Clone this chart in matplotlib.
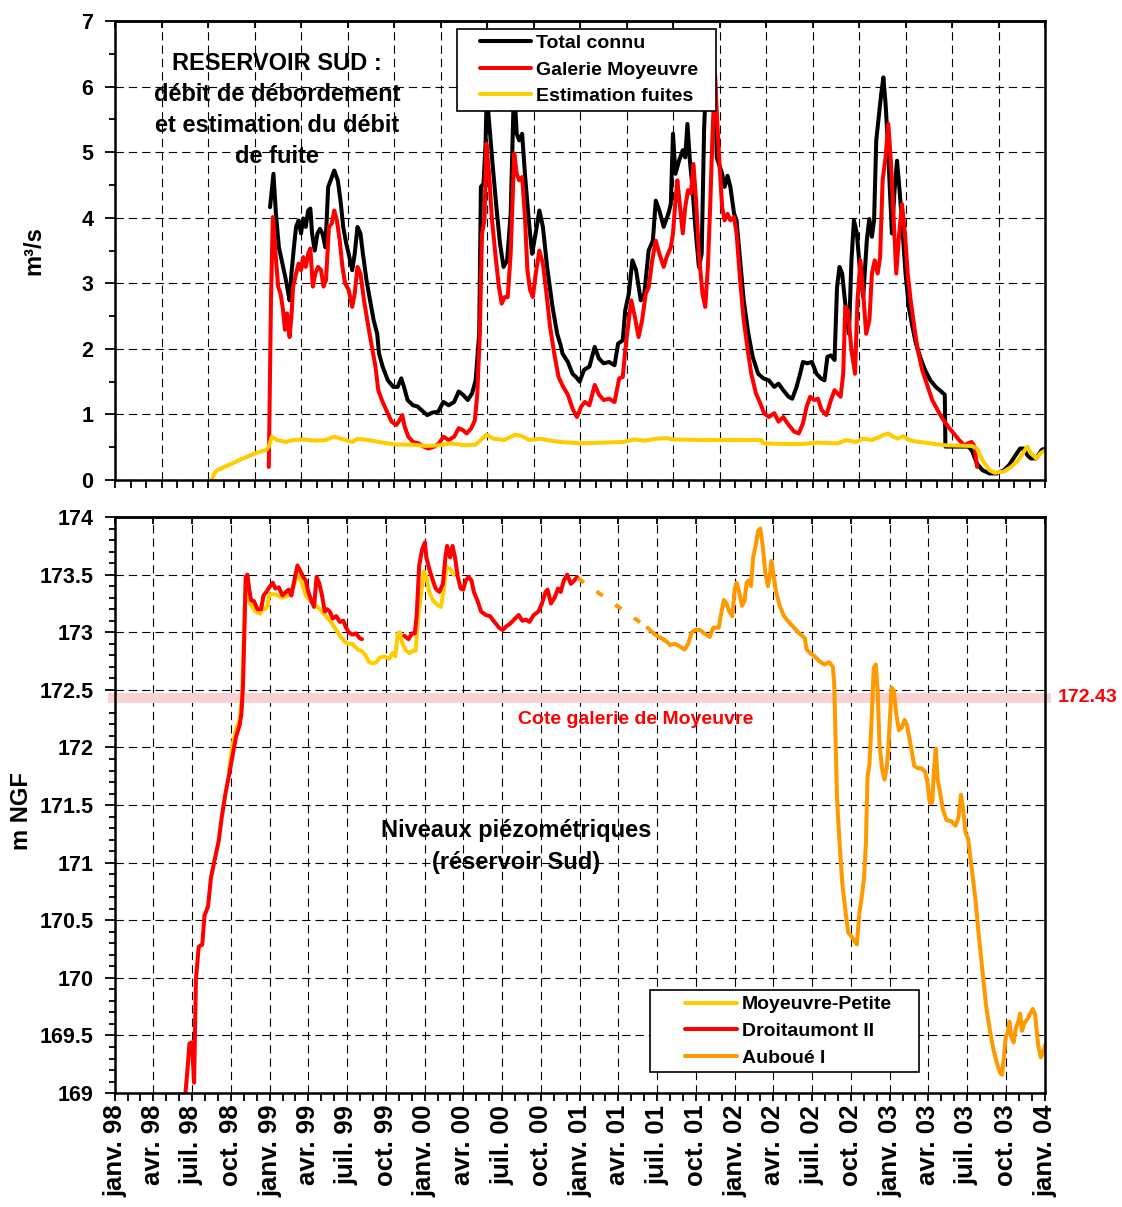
import numpy as np
import matplotlib
matplotlib.use("Agg")
import matplotlib.pyplot as plt
import matplotlib.dates as mdates
import matplotlib.transforms as mtransforms
from matplotlib.lines import Line2D
from matplotlib.legend_handler import HandlerLine2D
from matplotlib.ticker import (FixedLocator, MultipleLocator, FuncFormatter,
                               NullFormatter, NullLocator)

plt.rcParams['font.family'] = ['Liberation Sans', 'DejaVu Sans']
plt.rcParams['font.weight'] = 'bold'
plt.rcParams['lines.scale_dashes'] = False

# ---------------------------------------------------------------------------
# Data (time in years elapsed since 1 Jan 1998)
# ---------------------------------------------------------------------------
# Flows, m3/s
total_t = [1.000, 1.022, 1.038, 1.057, 1.080, 1.098, 1.114, 1.126, 1.138, 1.154,
           1.168, 1.184, 1.200, 1.214, 1.230, 1.246, 1.260, 1.271, 1.288, 1.306,
           1.322, 1.338, 1.357, 1.375, 1.391, 1.414, 1.437, 1.454, 1.472, 1.491,
           1.507, 1.530, 1.546, 1.564, 1.583, 1.599, 1.622, 1.645, 1.668, 1.691,
           1.703, 1.726, 1.760, 1.795, 1.823, 1.846, 1.864, 1.887, 1.922, 1.952,
           1.975, 2.014, 2.049, 2.084, 2.118, 2.153, 2.187, 2.217, 2.245, 2.275,
           2.303, 2.326, 2.349, 2.360, 2.377, 2.390, 2.398, 2.408, 2.437, 2.460,
           2.483, 2.506, 2.529, 2.552, 2.570, 2.578, 2.591, 2.607, 2.626, 2.644,
           2.667, 2.690, 2.713, 2.737, 2.760, 2.787, 2.822, 2.852, 2.875, 2.886,
           2.921, 2.951, 2.974, 2.997, 3.025, 3.060, 3.094, 3.122, 3.152, 3.187,
           3.222, 3.245, 3.275, 3.291, 3.314, 3.337, 3.361, 3.391, 3.414, 3.442,
           3.469, 3.488, 3.511, 3.539, 3.569, 3.585, 3.599, 3.615, 3.638, 3.662,
           3.678, 3.692, 3.708, 3.724, 3.743, 3.766, 3.784, 3.800, 3.815, 3.870,
           3.881, 3.916, 3.932, 3.951, 3.969, 3.993, 4.009, 4.032, 4.055, 4.085,
           4.113, 4.148, 4.182, 4.217, 4.252, 4.280, 4.310, 4.345, 4.368, 4.396,
           4.419, 4.437, 4.465, 4.495, 4.525, 4.553, 4.576, 4.595, 4.618, 4.641,
           4.657, 4.673, 4.690, 4.710, 4.734, 4.750, 4.766, 4.785, 4.803, 4.826,
           4.849, 4.865, 4.882, 4.896, 4.910, 4.928, 4.942, 4.956, 4.970, 4.984,
           4.997, 5.011, 5.028, 5.044, 5.062, 5.081, 5.099, 5.120, 5.143, 5.166,
           5.197, 5.224, 5.259, 5.294, 5.329, 5.352, 5.356, 5.410, 5.502, 5.525,
           5.560, 5.595, 5.641, 5.687, 5.734, 5.768, 5.803, 5.838, 5.861, 5.884,
           5.907, 5.942, 5.977, 6.000]
total_v = [4.16, 4.67, 4.06, 3.55, 3.30, 3.10, 2.90, 2.74, 3.15, 3.55,
           3.86, 3.96, 3.76, 3.99, 3.86, 4.11, 4.14, 3.76, 3.50, 3.76,
           3.83, 3.76, 3.55, 4.47, 4.57, 4.72, 4.57, 4.27, 3.86, 3.61,
           3.45, 3.20, 3.45, 3.86, 3.76, 3.45, 3.05, 2.74, 2.44, 2.23,
           1.93, 1.73, 1.52, 1.42, 1.42, 1.55, 1.42, 1.22, 1.14, 1.12,
           1.07, 0.99, 1.03, 1.04, 1.19, 1.14, 1.19, 1.35, 1.30, 1.22,
           1.32, 1.52, 2.23, 4.47, 4.52, 5.13, 5.95, 5.60, 4.77, 4.16,
           3.61, 3.25, 3.35, 4.06, 5.69, 5.85, 5.28, 5.18, 5.28, 4.67,
           4.01, 3.45, 3.76, 4.11, 3.86, 3.25, 2.64, 2.23, 2.05, 1.93,
           1.80, 1.62, 1.57, 1.50, 1.68, 1.73, 2.03, 1.85, 1.78, 1.80,
           1.75, 2.08, 2.13, 2.59, 2.84, 3.35, 3.20, 2.74, 2.84, 3.50,
           3.65, 4.26, 4.11, 3.86, 4.06, 4.21, 5.28, 4.67, 4.87, 5.03,
           4.92, 5.43, 4.87, 4.47, 3.86, 3.25, 3.45, 5.38, 6.20, 6.15,
           4.92, 4.67, 4.47, 4.64, 4.47, 4.06, 3.96, 3.35, 2.74, 2.23,
           1.88, 1.62, 1.55, 1.52, 1.42, 1.47, 1.37, 1.27, 1.24, 1.42,
           1.62, 1.80, 1.78, 1.80, 1.62, 1.55, 1.52, 1.88, 1.90, 1.83,
           2.94, 3.25, 3.15, 2.69, 2.23, 3.35, 3.96, 3.76, 3.25, 2.79,
           3.65, 3.98, 3.71, 3.96, 5.18, 5.58, 5.89, 6.14, 5.74, 5.18,
           4.47, 3.76, 4.42, 4.87, 4.37, 3.76, 3.15, 2.64, 2.34, 2.08,
           1.85, 1.68, 1.52, 1.42, 1.35, 1.30, 0.51, 0.51, 0.51, 0.46,
           0.25, 0.15, 0.10, 0.10, 0.15, 0.23, 0.36, 0.48, 0.48, 0.38,
           0.33, 0.33, 0.46, 0.48]

galerie_t = [0.992, 1.006, 1.018, 1.034, 1.052, 1.068, 1.084, 1.096, 1.110, 1.126,
             1.138, 1.149, 1.168, 1.184, 1.200, 1.214, 1.230, 1.246, 1.260, 1.276,
             1.292, 1.310, 1.329, 1.345, 1.361, 1.380, 1.398, 1.414, 1.431, 1.449,
             1.467, 1.484, 1.507, 1.530, 1.546, 1.564, 1.583, 1.606, 1.634, 1.657,
             1.680, 1.698, 1.721, 1.749, 1.784, 1.814, 1.830, 1.853, 1.869, 1.892,
             1.922, 1.957, 1.991, 2.021, 2.060, 2.090, 2.118, 2.153, 2.187, 2.217,
             2.245, 2.268, 2.298, 2.321, 2.337, 2.353, 2.367, 2.383, 2.395, 2.413,
             2.430, 2.453, 2.476, 2.494, 2.513, 2.533, 2.552, 2.575, 2.591, 2.607,
             2.626, 2.644, 2.660, 2.677, 2.695, 2.714, 2.737, 2.760, 2.783, 2.806,
             2.833, 2.861, 2.891, 2.921, 2.951, 2.979, 3.007, 3.030, 3.060, 3.094,
             3.122, 3.152, 3.187, 3.222, 3.252, 3.275, 3.291, 3.314, 3.330, 3.353,
             3.377, 3.400, 3.423, 3.442, 3.465, 3.488, 3.511, 3.539, 3.558, 3.585,
             3.599, 3.615, 3.627, 3.645, 3.662, 3.678, 3.696, 3.715, 3.731, 3.748,
             3.766, 3.789, 3.807, 3.824, 3.840, 3.854, 3.870, 3.881, 3.900, 3.916,
             3.932, 3.951, 3.969, 3.993, 4.009, 4.032, 4.055, 4.081, 4.104, 4.134,
             4.162, 4.187, 4.217, 4.252, 4.280, 4.310, 4.345, 4.380, 4.410, 4.437,
             4.461, 4.484, 4.510, 4.534, 4.557, 4.588, 4.618, 4.641, 4.660, 4.680,
             4.697, 4.710, 4.727, 4.750, 4.773, 4.789, 4.808, 4.826, 4.845, 4.866,
             4.882, 4.900, 4.919, 4.935, 4.951, 4.970, 4.988, 5.004, 5.021, 5.039,
             5.058, 5.076, 5.095, 5.113, 5.132, 5.155, 5.178, 5.206, 5.236, 5.271,
             5.305, 5.336, 5.375, 5.410, 5.444, 5.479, 5.502, 5.525, 5.544, 5.560]
galerie_v = [0.20, 2.74, 4.01, 3.50, 2.95, 2.84, 2.59, 2.29, 2.54, 2.18,
             2.49, 2.95, 3.15, 3.30, 3.20, 3.40, 3.25, 3.45, 3.53, 2.95,
             3.15, 3.25, 3.20, 2.95, 3.05, 3.86, 3.91, 4.11, 3.96, 3.66,
             3.25, 3.00, 2.90, 2.64, 2.84, 3.25, 3.15, 2.74, 2.34, 2.03,
             1.73, 1.37, 1.22, 1.07, 0.89, 0.84, 0.89, 0.99, 0.81, 0.66,
             0.58, 0.56, 0.51, 0.48, 0.51, 0.56, 0.66, 0.61, 0.66, 0.79,
             0.76, 0.71, 0.79, 0.91, 1.32, 2.23, 3.76, 3.96, 5.13, 4.67,
             4.01, 3.45, 2.95, 2.69, 2.79, 2.79, 3.45, 4.98, 4.67, 4.57,
             4.62, 4.01, 3.20, 2.90, 2.79, 3.15, 3.50, 3.30, 2.84, 2.34,
             1.93, 1.57, 1.42, 1.30, 1.09, 0.96, 1.12, 1.19, 1.14, 1.45,
             1.30, 1.22, 1.24, 1.19, 1.55, 1.57, 1.98, 2.44, 2.74, 2.49,
             2.18, 2.44, 2.84, 2.94, 3.35, 3.65, 3.45, 3.25, 3.40, 3.55,
             3.76, 4.26, 4.57, 4.16, 3.76, 4.16, 4.42, 4.37, 4.82, 4.26,
             3.45, 2.84, 2.64, 3.25, 4.26, 5.28, 6.19, 5.63, 4.77, 4.16,
             3.96, 4.06, 3.96, 4.01, 3.76, 3.05, 2.44, 1.98, 1.62, 1.32,
             1.17, 1.02, 0.96, 1.02, 0.89, 0.96, 0.84, 0.74, 0.71, 0.86,
             1.12, 1.27, 1.22, 1.24, 1.07, 0.99, 1.22, 1.37, 1.32, 1.27,
             1.62, 2.64, 2.59, 1.98, 1.62, 2.74, 3.35, 2.84, 2.23, 2.44,
             3.15, 3.35, 3.15, 3.40, 4.57, 4.92, 5.43, 4.87, 4.06, 3.15,
             3.76, 4.21, 3.76, 3.15, 2.74, 2.34, 1.98, 1.68, 1.47, 1.22,
             1.07, 0.94, 0.81, 0.71, 0.61, 0.53, 0.56, 0.58, 0.51, 0.20]

fuites_t = [0.623, 0.641, 0.660, 0.734, 0.826, 0.918, 0.976, 0.992, 1.011, 1.045,
            1.103, 1.150, 1.218, 1.288, 1.357, 1.414, 1.472, 1.530, 1.564, 1.634,
            1.726, 1.818, 1.910, 2.003, 2.095, 2.165, 2.257, 2.326, 2.360, 2.395,
            2.441, 2.510, 2.580, 2.626, 2.672, 2.741, 2.810, 2.875, 2.998, 3.141,
            3.280, 3.350, 3.420, 3.488, 3.557, 3.590, 3.800, 4.000, 4.170, 4.178,
            4.298, 4.437, 4.530, 4.664, 4.715, 4.780, 4.824, 4.880, 4.926, 4.958,
            4.988, 5.020, 5.051, 5.081, 5.132, 5.224, 5.352, 5.525, 5.560, 5.595,
            5.641, 5.675, 5.734, 5.780, 5.826, 5.861, 5.884, 5.907, 5.942, 5.970,
            6.000]
fuites_v = [0.00, 0.10, 0.15, 0.23, 0.33, 0.42, 0.46, 0.51, 0.66, 0.61,
            0.58, 0.61, 0.62, 0.60, 0.61, 0.66, 0.62, 0.58, 0.63, 0.61,
            0.57, 0.54, 0.54, 0.52, 0.53, 0.56, 0.53, 0.54, 0.61, 0.69,
            0.63, 0.61, 0.69, 0.67, 0.61, 0.63, 0.60, 0.58, 0.56, 0.57,
            0.58, 0.62, 0.60, 0.63, 0.64, 0.62, 0.61, 0.61, 0.61, 0.56,
            0.55, 0.55, 0.57, 0.56, 0.61, 0.58, 0.63, 0.61, 0.65, 0.69,
            0.71, 0.66, 0.63, 0.67, 0.60, 0.57, 0.53, 0.52, 0.48, 0.30,
            0.15, 0.11, 0.13, 0.20, 0.30, 0.43, 0.51, 0.41, 0.33, 0.41,
            0.45]

# Piezometric levels, m NGF
moyeuvre_t = [0.735, 0.757, 0.780, 0.805, 0.820, 0.832, 0.842, 0.850, 0.870, 0.907,
              0.937, 0.952, 0.966, 0.983, 0.995, 1.030, 1.080, 1.120, 1.160, 1.177,
              1.207, 1.230, 1.260, 1.288, 1.322, 1.353, 1.392, 1.427, 1.461, 1.496,
              1.531, 1.565, 1.590, 1.616, 1.639, 1.662, 1.685, 1.708, 1.738, 1.768,
              1.791, 1.808, 1.824, 1.838, 1.854, 1.877, 1.900, 1.923, 1.939, 1.953,
              1.969, 1.992, 2.008, 2.027, 2.050, 2.078, 2.101, 2.119, 2.138, 2.161,
              2.184]
moyeuvre_v = [171.80, 172.02, 172.15, 172.25, 172.45, 173.00, 173.40, 173.38, 173.25, 173.18,
              173.16, 173.22, 173.20, 173.22, 173.33, 173.33, 173.30, 173.32, 173.43, 173.52,
              173.42, 173.32, 173.27, 173.24, 173.20, 173.15, 173.09, 173.02, 172.95, 172.90,
              172.90, 172.85, 172.84, 172.80, 172.74, 172.73, 172.74, 172.78, 172.79, 172.77,
              172.82, 172.79, 172.99, 173.00, 172.90, 172.84, 172.82, 172.84, 172.84, 173.09,
              173.28, 173.53, 173.48, 173.35, 173.28, 173.24, 173.22, 173.35, 173.57, 173.55,
              173.50]

droitaumont_t = [0.445, 0.452, 0.469, 0.480, 0.496, 0.510, 0.522, 0.540, 0.563, 0.577,
                 0.600, 0.619, 0.642, 0.669, 0.688, 0.711, 0.734, 0.757, 0.780, 0.803,
                 0.815, 0.826, 0.834, 0.843, 0.854, 0.865, 0.877, 0.896, 0.919, 0.942,
                 0.958, 0.976, 1.000, 1.018, 1.034, 1.057, 1.080, 1.103, 1.120, 1.138,
                 1.161, 1.177, 1.196, 1.214, 1.230, 1.247, 1.265, 1.284, 1.300, 1.316,
                 1.334, 1.353, 1.369, 1.385, 1.404, 1.427, 1.450, 1.473, 1.487, 1.507,
                 1.531, 1.554, 1.577, 1.593, 1.730, 1.865, 1.893, 1.915, 1.934, 1.946,
                 1.962, 1.981, 1.999, 2.008, 2.027, 2.050, 2.068, 2.092, 2.115, 2.131,
                 2.142, 2.161, 2.177, 2.193, 2.211, 2.230, 2.246, 2.262, 2.281, 2.299,
                 2.315, 2.339, 2.361, 2.392, 2.419, 2.447, 2.477, 2.500, 2.523, 2.553,
                 2.581, 2.604, 2.627, 2.650, 2.673, 2.701, 2.731, 2.754, 2.777, 2.790,
                 2.812, 2.835, 2.858, 2.875, 2.895, 2.917, 2.940, 2.963, 2.980]
droitaumont_v = [168.85, 168.96, 169.23, 169.43, 169.44, 169.09, 169.99, 170.27, 170.29, 170.54,
                 170.62, 170.87, 171.02, 171.19, 171.39, 171.59, 171.75, 171.92, 172.09, 172.19,
                 172.29, 172.55, 172.99, 173.48, 173.50, 173.38, 173.28, 173.27, 173.20, 173.20,
                 173.32, 173.35, 173.40, 173.43, 173.38, 173.39, 173.32, 173.35, 173.37, 173.32,
                 173.48, 173.58, 173.53, 173.48, 173.45, 173.35, 173.28, 173.22, 173.48, 173.43,
                 173.33, 173.18, 173.20, 173.18, 173.12, 173.14, 173.09, 173.10, 173.05, 173.00,
                 172.98, 172.99, 172.95, 172.94, np.nan, 172.97, 172.94, 172.99, 172.99, 173.15,
                 173.58, 173.72, 173.78, 173.65, 173.55, 173.45, 173.38, 173.35, 173.42, 173.65,
                 173.75, 173.65, 173.75, 173.65, 173.48, 173.38, 173.37, 173.45, 173.48, 173.45,
                 173.35, 173.27, 173.18, 173.15, 173.14, 173.09, 173.04, 173.02, 173.05, 173.08,
                 173.12, 173.15, 173.10, 173.11, 173.09, 173.15, 173.18, 173.25, 173.35, 173.37,
                 173.25, 173.30, 173.38, 173.35, 173.45, 173.50, 173.42, 173.45, 173.48]

# Auboue I: sparse readings (dashed link) then regular record
auboue_gap_t = [2.985, 3.435]
auboue_gap_v = [173.47, 173.04]
auboue_t = [3.435, 3.465, 3.495, 3.523, 3.558, 3.581, 3.611, 3.639, 3.674, 3.697,
            3.720, 3.743, 3.773, 3.801, 3.836, 3.859, 3.894, 3.912, 3.928, 3.944,
            3.962, 3.981, 3.998, 4.009, 4.026, 4.044, 4.060, 4.074, 4.088, 4.102,
            4.116, 4.132, 4.148, 4.162, 4.178, 4.194, 4.211, 4.222, 4.234, 4.245,
            4.264, 4.287, 4.315, 4.345, 4.380, 4.414, 4.449, 4.461, 4.484, 4.514,
            4.542, 4.576, 4.606, 4.630, 4.639, 4.646, 4.657, 4.674, 4.691, 4.713,
            4.730, 4.750, 4.769, 4.785, 4.801, 4.815, 4.831, 4.843, 4.854, 4.866,
            4.877, 4.894, 4.907, 4.919, 4.931, 4.947, 4.963, 4.977, 4.988, 5.000,
            5.009, 5.023, 5.039, 5.056, 5.074, 5.093, 5.109, 5.132, 5.155, 5.178,
            5.201, 5.225, 5.241, 5.255, 5.271, 5.282, 5.294, 5.306, 5.324, 5.340,
            5.363, 5.394, 5.421, 5.440, 5.456, 5.468, 5.486, 5.502, 5.525, 5.549,
            5.572, 5.595, 5.618, 5.641, 5.664, 5.688, 5.711, 5.722, 5.734, 5.745,
            5.757, 5.769, 5.780, 5.796, 5.810, 5.826, 5.838, 5.850, 5.866, 5.884,
            5.903, 5.919, 5.935, 5.954, 5.972, 5.988, 6.000]
auboue_v = [173.04, 173.00, 172.97, 172.95, 172.92, 172.89, 172.90, 172.88, 172.85, 172.90,
            173.00, 173.02, 173.02, 172.99, 172.96, 173.04, 173.04, 173.18, 173.28, 173.25,
            173.18, 173.14, 173.38, 173.43, 173.35, 173.23, 173.27, 173.43, 173.45, 173.40,
            173.65, 173.75, 173.88, 173.90, 173.75, 173.52, 173.40, 173.48, 173.62, 173.52,
            173.35, 173.23, 173.14, 173.09, 173.04, 172.99, 172.95, 172.85, 172.82, 172.79,
            172.75, 172.72, 172.74, 172.70, 172.55, 172.15, 171.55, 171.16, 170.82, 170.56,
            170.39, 170.36, 170.32, 170.29, 170.56, 170.69, 170.86, 171.16, 171.75, 171.85,
            172.15, 172.69, 172.72, 172.49, 172.02, 171.82, 171.72, 171.82, 171.99, 172.29,
            172.52, 172.49, 172.29, 172.15, 172.17, 172.24, 172.19, 172.02, 171.84, 171.82,
            171.82, 171.79, 171.69, 171.52, 171.52, 171.79, 171.99, 171.72, 171.59, 171.46,
            171.37, 171.36, 171.32, 171.39, 171.59, 171.49, 171.26, 171.21, 170.96, 170.69,
            170.36, 170.06, 169.76, 169.56, 169.39, 169.26, 169.17, 169.16, 169.32, 169.49,
            169.52, 169.62, 169.49, 169.44, 169.56, 169.62, 169.69, 169.54, 169.61, 169.64,
            169.69, 169.73, 169.68, 169.42, 169.31, 169.36, 169.42]

gallery_level = 172.43

# Axis labels
month_names = {1: 'janv.', 4: 'avr.', 7: 'juil.', 10: 'oct.'}

# ---------------------------------------------------------------------------
ORIGIN = np.datetime64('1998-01-01T00:00:00')


def to_dates(t):
    secs = np.round(np.asarray(t, dtype=float) * 365.25 * 86400).astype('int64')
    return ORIGIN + secs.astype('timedelta64[s]')


x_start = np.datetime64('1998-01-01')
x_end = np.datetime64('2004-01-01')
d0, d1 = mdates.date2num(x_start), mdates.date2num(x_end)

BLACK = '#000000'
RED = '#FF0000'
YELLOW = '#FFCC00'
ORANGE = '#FF9900'
LW = 2.9
GRID_DASH = (0, (6, 3.6))
SPINE_W = 1.8
TICK_FS = 15.5
XTICK_FS = 18.5
LEG_FS = 14

fig = plt.figure(figsize=(11.22, 12.07), dpi=100)
ax1 = fig.add_axes([0.1025, 0.6023, 0.8289, 0.3803])
ax2 = fig.add_axes([0.1025, 0.0944, 0.8289, 0.4772])

line_kw = dict(linewidth=LW, solid_joinstyle='round', solid_capstyle='round')


def boxed_legend(ax, anchor, loc, xpad):
    leg = ax.legend(loc=loc, bbox_to_anchor=anchor, mode='expand',
                    prop={'weight': 'bold', 'size': LEG_FS}, frameon=True,
                    fancybox=False, edgecolor='black', framealpha=1,
                    handlelength=2.65 + xpad, handletextpad=0.26,
                    labelspacing=0.46, borderpad=0.28, borderaxespad=0,
                    handler_map={Line2D: HandlerLine2D(xpad=xpad)})
    leg.get_frame().set_linewidth(1.2)
    return leg


# ---- top panel: flows ----
ax1.plot(to_dates(total_t), total_v, color=BLACK, label='Total connu', **line_kw)
ax1.plot(to_dates(galerie_t), galerie_v, color=RED, label='Galerie Moyeuvre', **line_kw)
ax1.plot(to_dates(fuites_t), fuites_v, color=YELLOW, label='Estimation fuites', **line_kw)

ax1.set_xlim(x_start, x_end)
ax1.set_ylim(0, 7)
ax1.yaxis.set_major_locator(MultipleLocator(1))
ax1.yaxis.set_minor_locator(MultipleLocator(0.5))
ax1.xaxis.set_major_locator(FixedLocator(np.linspace(d0, d1, 21)))
ax1.xaxis.set_minor_locator(FixedLocator(np.linspace(d0, d1, 61)))
ax1.xaxis.set_major_formatter(NullFormatter())
ax1.xaxis.set_minor_formatter(NullFormatter())
ax1.set_ylabel('m³/s', fontsize=17, fontweight='bold')
ax1.yaxis.set_label_coords(-0.075, 0.5)

boxed_legend(ax1, (0.368, 0.5, 0.2785, 0.4826), 'upper left', 0.87)

ax1.text(0.174, 5.64, 'RESERVOIR SUD :\ndébit de débordement\net estimation du débit\nde fuite',
         transform=mtransforms.blended_transform_factory(ax1.transAxes, ax1.transData),
         ha='center', va='center', fontsize=17, fontweight='bold', linespacing=1.45)

# ---- bottom panel: piezometric levels ----
ax2.axhspan(gallery_level - 0.04, gallery_level + 0.04, xmin=-0.007, xmax=1.006,
            facecolor='#F9D3D3', edgecolor='none', zorder=1.2, clip_on=False)
ax2.plot(to_dates(moyeuvre_t), moyeuvre_v, color=YELLOW, label='Moyeuvre-Petite', **line_kw)
ax2.plot(to_dates(droitaumont_t), droitaumont_v, color=RED, label='Droitaumont II', **line_kw)
ax2.plot(to_dates(auboue_gap_t), auboue_gap_v, color=ORANGE, linewidth=LW,
         linestyle=(0, (5.5, 11)), dash_capstyle='butt')
ax2.plot(to_dates(auboue_t), auboue_v, color=ORANGE, label='Auboué I', **line_kw)

ax2.set_xlim(x_start, x_end)
ax2.set_ylim(169, 174)
ax2.yaxis.set_major_locator(MultipleLocator(0.5))
ax2.yaxis.set_minor_locator(MultipleLocator(0.1))
ax2.yaxis.set_major_formatter(FuncFormatter(lambda v, p: f'{v:g}'))
ax2.xaxis.set_major_locator(mdates.MonthLocator(bymonth=[1, 4, 7, 10]))
ax2.xaxis.set_minor_locator(mdates.MonthLocator())


def fr_date(x, pos=None):
    d = mdates.num2date(x)
    return f'{month_names.get(d.month, "")} {d.year % 100:02d}'


ax2.xaxis.set_major_formatter(FuncFormatter(fr_date))
ax2.tick_params(axis='x', which='major', labelrotation=90, labelsize=XTICK_FS, pad=3)
ax2.set_ylabel('m NGF', fontsize=17, fontweight='bold')
ax2.yaxis.set_label_coords(-0.088, 0.49)

blend2 = mtransforms.blended_transform_factory(ax2.transAxes, ax2.transData)
ax2.text(1.014, gallery_level, f'{gallery_level:.2f}', transform=blend2, color=RED,
         ha='left', va='center', fontsize=14, fontweight='bold')
ax2.text(0.560, 172.24, 'Cote galerie de Moyeuvre', transform=blend2, color=RED,
         ha='center', va='center', fontsize=14, fontweight='bold')
ax2.text(0.431, 171.14, 'Niveaux piézométriques\n(réservoir Sud)', transform=blend2,
         ha='center', va='center', fontsize=17, fontweight='bold', linespacing=1.45)

boxed_legend(ax2, (0.575, 0.0365, 0.289, 0.3), 'lower left', 1.55)

# ---- common styling ----
for ax in (ax1, ax2):
    ax.set_axisbelow(True)
    ax.grid(True, which='major', color='black', linestyle=GRID_DASH, linewidth=0.8)
    for sp in ax.spines.values():
        sp.set_linewidth(SPINE_W)
        sp.set_zorder(5)
    ax.tick_params(axis='both', which='both', direction='out', width=1.3,
                   top=False, right=False)
    ax.tick_params(axis='y', which='major', length=7.5, pad=8, labelsize=TICK_FS)
    ax.tick_params(axis='y', which='minor', length=4.5)
    ax.tick_params(axis='x', which='both', length=5.5)
    for lab in ax.get_yticklabels() + ax.get_xticklabels():
        lab.set_fontweight('bold')

# inward tick marks along the upper frame
for ax, loc in ((ax1, FixedLocator(np.linspace(d0, d1, 21))),
                (ax2, mdates.MonthLocator(bymonth=[1, 4, 7, 10]))):
    sec = ax.secondary_xaxis('top')
    sec.xaxis.set_major_locator(loc)
    sec.xaxis.set_minor_locator(NullLocator())
    sec.tick_params(axis='x', direction='in', length=5, width=1.3, labeltop=False)
    sec.spines['top'].set_linewidth(SPINE_W)

fig.savefig('out.png', dpi=100)
